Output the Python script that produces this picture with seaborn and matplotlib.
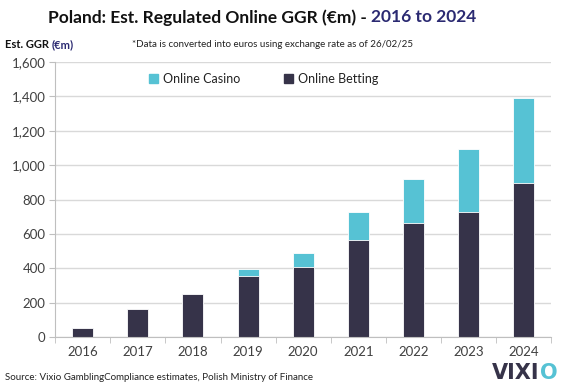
import pandas as pd
import matplotlib.pyplot as plt
import seaborn as sns
from matplotlib.patches import Patch
from matplotlib.ticker import FuncFormatter, FixedLocator

# data (EUR m)
years = ['2016', '2017', '2018', '2019', '2020', '2021', '2022', '2023', '2024']
betting = [52, 162, 249, 359, 409, 566, 664, 730, 898]
casino = [0, 0, 0, 39, 78, 164, 258, 362, 489]

df = pd.DataFrame({'Year': years, 'Online Betting': betting, 'Online Casino': casino})
df['Total'] = df['Online Betting'] + df['Online Casino']

dark = '#363349'
teal = '#56c2d4'
navy = '#2b2a72'
grey_txt = '#404040'

sns.set_style('white')
plt.rcParams['font.family'] = ['Lato', 'DejaVu Sans']

fig = plt.figure(figsize=(5.63, 3.86), dpi=100)
ax = fig.add_axes([0.098, 0.126, 0.881, 0.714])

# stacked bars: total (casino on top) first, then betting over it
sns.barplot(x='Year', y='Total', data=df, color=teal, width=0.38,
            edgecolor='white', linewidth=0.6, saturation=1, ax=ax)
sns.barplot(x='Year', y='Online Betting', data=df, color=dark, width=0.38,
            edgecolor='white', linewidth=0.6, saturation=1, ax=ax)

ax.set_ylim(0, 1600)
ax.set_xlim(-0.5, len(years) - 0.5)
ax.set_yticks(range(0, 1601, 200))
ax.yaxis.set_major_formatter(FuncFormatter(lambda v, p: f'{int(v):,}'))
ax.yaxis.grid(True, color='#d9d9d9', linewidth=1)
ax.set_axisbelow(True)
ax.set_xlabel('')
ax.set_ylabel('')

for s in ['top', 'right']:
    ax.spines[s].set_visible(False)
ax.spines['left'].set_color('#bfbfbf')
ax.spines['bottom'].set_color('#bfbfbf')

ax.tick_params(axis='y', left=True, length=4, color='#bfbfbf',
               labelsize=9.5, labelcolor=grey_txt, pad=3)
ax.tick_params(axis='x', which='major', bottom=False, labelsize=9.5,
               labelcolor=grey_txt, pad=3)
ax.xaxis.set_minor_locator(FixedLocator([i + 0.5 for i in range(-1, len(years))]))
ax.tick_params(axis='x', which='minor', bottom=True, length=4, color='#bfbfbf')

handles = [Patch(color=teal, label='Online Casino'),
           Patch(color=dark, label='Online Betting')]
ax.legend(handles=handles, loc='upper center', bbox_to_anchor=(0.42, 1.0),
          ncol=2, frameon=False, fontsize=9, handlelength=0.7, handleheight=0.7,
          handletextpad=0.4, columnspacing=3.5, labelcolor='#222222')

# title in two colours
t1 = fig.text(0.085, 0.955, 'Poland: Est. Regulated Online GGR (€m) - ',
              fontsize=12.5, fontweight='bold', color='#111111', va='center')
fig.canvas.draw()
bb = t1.get_window_extent()
fig.text(bb.x1 / fig.bbox.width, 0.955, '2016 to 2024', fontsize=12.5,
         fontweight='bold', color=navy, va='center')

t2 = fig.text(0.008, 0.885, 'Est. GGR ', fontsize=8, fontweight='bold',
              color='#111111', va='center')
fig.canvas.draw()
bb = t2.get_window_extent()
fig.text(bb.x1 / fig.bbox.width, 0.885, '(€m)', fontsize=8, fontweight='bold',
         color=navy, va='center')

fig.text(0.235, 0.885, '*Data is converted into euros using exchange rate as of 26/02/25',
         fontsize=7, color='#222222', va='center')

fig.text(0.008, 0.022, 'Source: Vixio GamblingCompliance estimates, Polish Ministry of Finance',
         fontsize=7, color='#222222', va='center')

# logo text, right-aligned at the corner
t3 = fig.text(0.99, 0.034, 'O', fontsize=15, fontweight='bold', color=teal,
              va='center', ha='right', family='DejaVu Sans')
fig.canvas.draw()
bb = t3.get_window_extent()
fig.text(bb.x0 / fig.bbox.width, 0.034, 'VIXI', fontsize=15, fontweight='bold',
         color=dark, va='center', ha='right', family='DejaVu Sans')

fig.savefig('out.png', dpi=100)
